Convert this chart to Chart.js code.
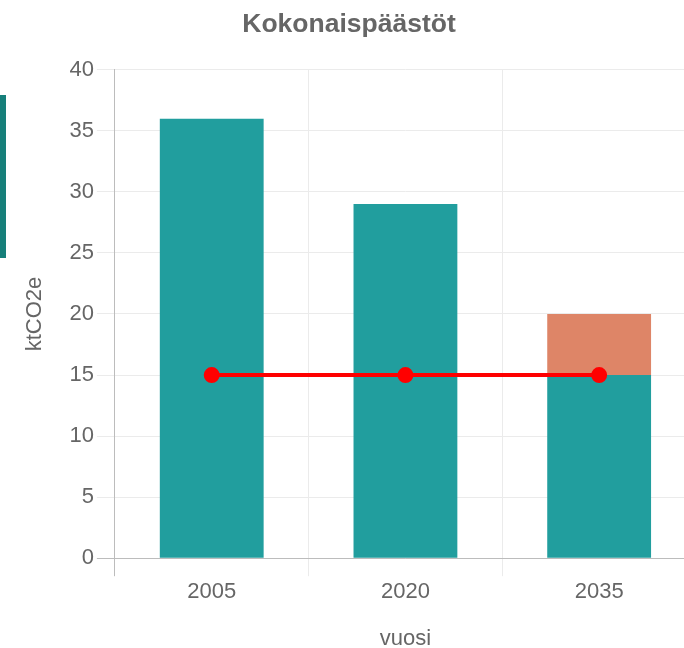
<!DOCTYPE html>
<html>
<head>
<meta charset="utf-8">
<script src="https://cdn.jsdelivr.net/npm/chart.js@4/dist/chart.umd.min.js"></script>
<style>
  html { margin: 0; padding: 0; overflow: hidden; background: #fff; }
  body { margin: 0; padding: 0; background: #fff; width: 760px; height: 660px; position: relative; }
  #side { position: absolute; left: 0; top: 95px; width: 6px; height: 163px; background: #167f7a; }
  #wrap { position: absolute; left: 4px; top: 0; width: 692px; height: 652px; }
</style>
</head>
<body>
<div id="side"></div>
<div id="wrap"><canvas id="c"></canvas></div>
<script>
const years = ['2005', '2020', '2035'];
const emissions = [36, 29, 15];
const extra = [0, 0, 5];
const target = [15, 15, 15];
const yTicksMin = 0, yTicksMax = 40, yStep = 5;

const FONT = '"Liberation Sans", Arial, Helvetica, sans-serif';
const TXT = '#666';
const GRID = '#ebebeb';
const AXIS = '#bcbcbc';

new Chart(document.getElementById('c'), {
  data: {
    labels: years,
    datasets: [
      {
        type: 'line', label: 'tavoite', data: target, order: 0, stack: 'line',
        borderColor: '#ff0000', backgroundColor: '#ff0000', borderWidth: 4,
        pointRadius: 6, pointHoverRadius: 6, fill: false, tension: 0
      },
      {
        type: 'bar', label: 'päästöt', data: emissions, order: 1, stack: 'bars',
        backgroundColor: '#219e9e', barPercentage: 0.67, categoryPercentage: 0.8
      },
      {
        type: 'bar', label: 'lisä', data: extra, order: 1, stack: 'bars',
        backgroundColor: '#de8567', barPercentage: 0.67, categoryPercentage: 0.8
      }
    ]
  },
  options: {
    responsive: true, maintainAspectRatio: false, animation: false,
    devicePixelRatio: 1,
    layout: { autoPadding: false, padding: { left: -2, right: 0, top: 0, bottom: 0 } },
    plugins: {
      legend: { display: false },
      tooltip: { enabled: false },
      title: {
        display: true, text: 'Kokonaispäästöt', color: TXT,
        font: { family: FONT, size: 26.5, weight: 'bold' },
        padding: { top: 9, bottom: 29 }
      }
    },
    scales: {
      x: {
        stacked: true,
        grid: {
          color: (c) => c.index === 0 ? AXIS : GRID,
          tickLength: 18, offset: true
        },
        border: { color: AXIS },
        ticks: { color: TXT, font: { family: FONT, size: 22 }, padding: 3 },
        title: {
          display: true, text: 'vuosi', color: TXT,
          font: { family: FONT, size: 22 }, padding: { top: 17, bottom: 0 }
        }
      },
      y: {
        stacked: true, min: yTicksMin, max: yTicksMax,
        grid: {
          color: (c) => c.index === 0 ? AXIS : GRID,
          tickLength: 18
        },
        border: { color: AXIS },
        ticks: { stepSize: yStep, color: TXT, font: { family: FONT, size: 22 }, padding: 3 },
        title: {
          display: true, text: 'ktCO2e', color: TXT,
          font: { family: FONT, size: 22 }, padding: { top: 20, bottom: 18 }
        }
      }
    }
  }
});
</script>
</body>
</html>
